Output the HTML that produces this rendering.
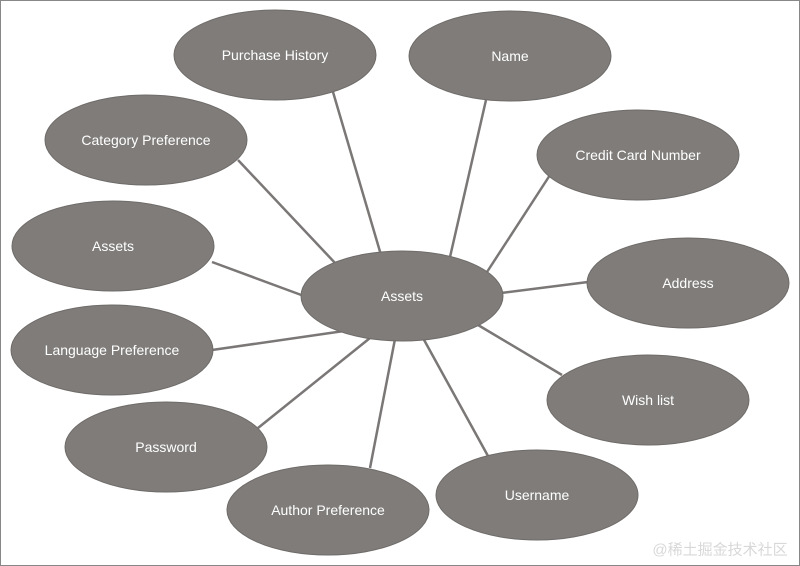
<!DOCTYPE html>
<html><head><meta charset="utf-8"><style>
html,body{margin:0;padding:0;background:#fff;}
svg{display:block}
text{font-family:"Liberation Sans",sans-serif;font-size:14px;fill:#fff;text-anchor:middle;dominant-baseline:central}
</style></head><body>
<svg width="800" height="566" viewBox="0 0 800 566">
<rect x="0.5" y="0.5" width="799" height="565" fill="#fff" stroke="#888"/>
<g stroke="#7a7776" stroke-width="2.5">
<line x1="333" y1="92" x2="381" y2="255"/>
<line x1="486" y1="100" x2="450" y2="257"/>
<line x1="238" y1="160" x2="336" y2="264"/>
<line x1="550" y1="175" x2="487" y2="272"/>
<line x1="212" y1="262" x2="304" y2="296"/>
<line x1="588" y1="282" x2="501" y2="293"/>
<line x1="212" y1="350" x2="344" y2="331"/>
<line x1="562" y1="375" x2="478" y2="325"/>
<line x1="258" y1="428" x2="370" y2="338"/>
<line x1="370" y1="468" x2="395" y2="339"/>
<line x1="488" y1="456" x2="423" y2="338"/>
</g>
<g fill="#7f7c7a" stroke="#6e6b69" stroke-width="1">
<ellipse cx="402" cy="296" rx="101" ry="45"/>
<ellipse cx="275" cy="55" rx="101" ry="45"/>
<ellipse cx="510" cy="56" rx="101" ry="45"/>
<ellipse cx="146" cy="140" rx="101" ry="45"/>
<ellipse cx="638" cy="155" rx="101" ry="45"/>
<ellipse cx="113" cy="246" rx="101" ry="45"/>
<ellipse cx="688" cy="283" rx="101" ry="45"/>
<ellipse cx="112" cy="350" rx="101" ry="45"/>
<ellipse cx="648" cy="400" rx="101" ry="45"/>
<ellipse cx="166" cy="447" rx="101" ry="45"/>
<ellipse cx="537" cy="495" rx="101" ry="45"/>
<ellipse cx="328" cy="510" rx="101" ry="45"/>
</g>
<text x="402" y="296">Assets</text>
<text x="275" y="55">Purchase History</text>
<text x="510" y="56">Name</text>
<text x="146" y="140">Category Preference</text>
<text x="638" y="155">Credit Card Number</text>
<text x="113" y="246">Assets</text>
<text x="688" y="283">Address</text>
<text x="112" y="350">Language Preference</text>
<text x="648" y="400">Wish list</text>
<text x="166" y="447">Password</text>
<text x="537" y="495">Username</text>
<text x="328" y="510">Author Preference</text>
<text x="720" y="550" style="fill:#d8d8d8;font-family:'Liberation Sans','Noto Sans CJK SC',sans-serif;font-size:15px">@稀土掘金技术社区</text>
</svg>
</body></html>
